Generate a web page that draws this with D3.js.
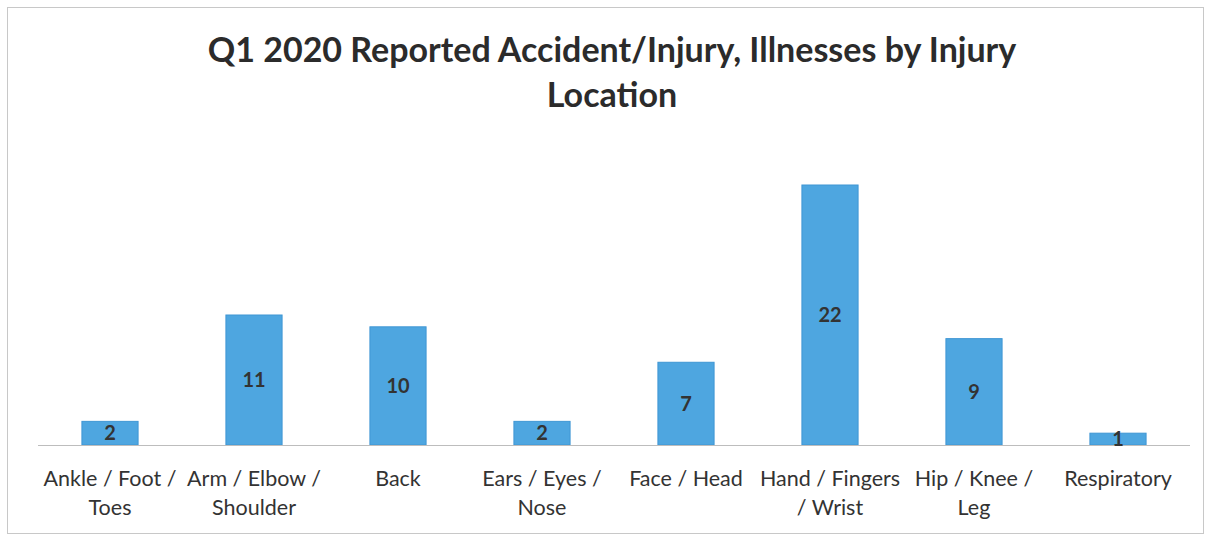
<!DOCTYPE html>
<html>
<head>
<meta charset="utf-8">
<script src="https://cdn.jsdelivr.net/npm/d3@7"></script>
<style>
  body { margin: 0; background: #fff; }
  svg { display: block; }
</style>
</head>
<body>
<div id="chart"></div>
<script>
// data
var categories = ["Ankle / Foot / Toes", "Arm / Elbow / Shoulder", "Back", "Ears / Eyes / Nose",
	"Face / Head", "Hand / Fingers / Wrist", "Hip / Knee / Leg", "Respiratory"];
var labelLines = [["Ankle / Foot /", "Toes"], ["Arm / Elbow /", "Shoulder"], ["Back"], ["Ears / Eyes /", "Nose"],
	["Face / Head"], ["Hand / Fingers", "/ Wrist"], ["Hip / Knee /", "Leg"], ["Respiratory"]];
var counts = [2, 11, 10, 2, 7, 22, 9, 1];
var titleLines = ["Q1 2020 Reported Accident/Injury, Illnesses by Injury", "Location"];

var chart_width = 1210,
	chart_height = 536;

var svg = d3.select("#chart")
	.append("svg")
		.attr("width", chart_width)
		.attr("height", chart_height);

// outer frame
svg.append("rect")
	.attr("x", 7.5)
	.attr("y", 7.5)
	.attr("width", 1196)
	.attr("height", 526)
	.attr("fill", "none")
	.attr("stroke", "#c8c8c8")
	.attr("stroke-width", 1);

// title
svg.append("text")
	.attr("x", 612)
	.attr("y", 62)
	.attr("text-anchor", "middle")
	.attr("font-family", "Lato, 'Open Sans', sans-serif")
	.attr("font-weight", "bold")
	.attr("font-size", 34)
	.attr("fill", "#2b2b2b")
	.selectAll("tspan")
	.data(titleLines)
	.enter()
	.append("tspan")
		.attr("x", 612)
		.attr("dy", function(d, i) { return i == 0 ? 0 : 45; })
		.text(function(d) { return d; });

var x = d3.scaleBand()
	.domain(categories)
	.range([38, 1190])
	.paddingInner(0.61)
	.paddingOuter(0.305);

var y = d3.scaleLinear()
	.domain([0, 22])
	.range([445, 185]);

// bars
svg.selectAll("rect.bar")
	.data(counts)
	.enter()
	.append("rect")
	.attr("class", "bar")
	.attr("x", function(d, i) { return x(categories[i]); })
	.attr("y", function(d) { return y(d); })
	.attr("width", x.bandwidth())
	.attr("height", function(d) { return y(0) - y(d); })
	.attr("fill", "#4ea6e0")
	.attr("stroke", "#3f96d4")
	.attr("stroke-width", 1);

// baseline
svg.append("line")
	.attr("x1", 38)
	.attr("x2", 1190)
	.attr("y1", y(0) + 0.5)
	.attr("y2", y(0) + 0.5)
	.attr("stroke", "#bdbdbd")
	.attr("stroke-width", 1);

// value labels
svg.selectAll("text.val")
	.data(counts)
	.enter()
	.append("text")
	.attr("class", "val")
	.text(function(d) { return d; })
	.attr("x", function(d, i) { return x(categories[i]) + x.bandwidth() / 2; })
	.attr("y", function(d) { return (y(d) + y(0)) / 2 + 7; })
	.attr("text-anchor", "middle")
	.attr("font-family", "Lato, 'Open Sans', sans-serif")
	.attr("font-weight", "bold")
	.attr("font-size", 20)
	.attr("fill", "#333");

// category labels
var cat = svg.selectAll("text.cat")
	.data(labelLines)
	.enter()
	.append("text")
	.attr("class", "cat")
	.attr("text-anchor", "middle")
	.attr("font-family", "Lato, 'Open Sans', sans-serif")
	.attr("font-size", 21.5)
	.attr("fill", "#333");

cat.selectAll("tspan")
	.data(function(d, i) { return d.map(function(s) { return { s: s, i: i }; }); })
	.enter()
	.append("tspan")
	.attr("x", function(d) { return x(categories[d.i]) + x.bandwidth() / 2; })
	.attr("y", function(d, j) { return 486 + j * 29; })
	.text(function(d) { return d.s; });
</script>
</body>
</html>
